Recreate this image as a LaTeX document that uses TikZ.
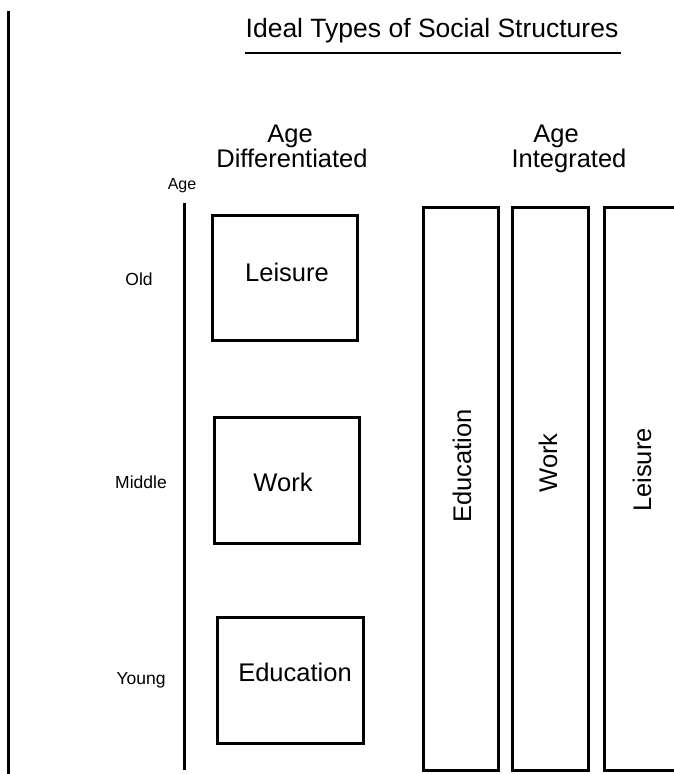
\documentclass[tikz,border=0pt]{standalone}
\usepackage{fontspec}
\setmainfont{Liberation Sans}
\begin{document}
\begin{tikzpicture}[x=1pt,y=-1pt,
  box/.style={draw,line width=3pt,inner sep=0pt,minimum width=#1},
  big/.style={font=\fontsize{25.5}{30}\selectfont,inner sep=0pt},
  small/.style={font=\fontsize{17.5}{21}\selectfont,inner sep=0pt},
  rule/.style={line width=3pt}]
\useasboundingbox[fill=white] (0,0) rectangle (674,774);
\clip (0,0) rectangle (674,774);
% left border
\coordinate (bt) at (8,11);
\coordinate (bb) at (8,774);
\draw[rule] (bt) -- (bb);
% title
\node[font=\fontsize{26.5}{31}\selectfont,inner sep=0pt,anchor=base] (title) at (432,37) {Ideal Types of Social Structures};
\coordinate (ul) at (245,53);
\coordinate (ur) at (621,53);
\draw[line width=2.5pt] (ul) -- (ur);
% headers
\node[big,anchor=base] (ha1) at (290,142) {Age};
\node[big,anchor=base] (hd1) at (292,167) {Differentiated};
\node[big,anchor=base] (ha2) at (556,142) {Age};
\node[big,anchor=base] (hi2) at (569,167) {Integrated};
% axis
\node[font=\fontsize{16}{19}\selectfont,inner sep=0pt,anchor=base] (agelab) at (182,189) {Age};
\coordinate (axt) at (184,203);
\coordinate (axb) at (184,770);
\draw[rule] (axt) -- (axb);
\node[small,anchor=base] (old) at (139,285) {Old};
\node[small,anchor=base] (mid) at (141,488) {Middle};
\node[small,anchor=base] (yng) at (141,684) {Young};
% differentiated boxes
\node[box=145pt,minimum height=125pt] (bl) at (284.5,277.5) {};
\node[big,anchor=base] (tl) at (287,281.5) {Leisure};
\node[box=145pt,minimum height=126pt] (bw) at (286.5,480) {};
\node[big,anchor=base] (tw) at (283,491.5) {Work};
\node[box=146pt,minimum height=126pt] (be) at (290,680) {};
\node[big,anchor=base] (te) at (295,681) {Education};
% integrated columns
\node[box=75pt,minimum height=563pt] (ce) at (460.5,488.5) {};
\node[big,rotate=90] (tce) at (462,466) {Education};
\node[box=76pt,minimum height=563pt] (cw) at (550,488.5) {};
\node[big,rotate=90] (tcw) at (548,463) {Work};
\node[box=80pt,minimum height=563pt] (cl) at (644,488.5) {};
\node[big,rotate=90] (tcl) at (642,470) {Leisure};
\end{tikzpicture}
\end{document}
